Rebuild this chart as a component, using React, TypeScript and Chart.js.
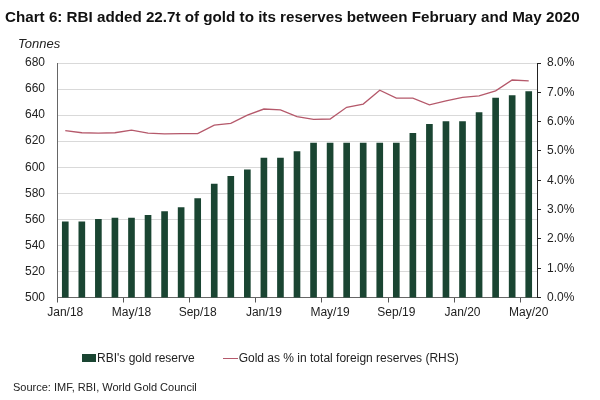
import React, { useEffect, useRef } from "react";
import { Chart, registerables } from "chart.js";

Chart.register(...registerables);

const months = [
  "Jan/18", "Feb/18", "Mar/18", "Apr/18", "May/18", "Jun/18", "Jul/18", "Aug/18", "Sep/18", "Oct/18", "Nov/18", "Dec/18",
  "Jan/19", "Feb/19", "Mar/19", "Apr/19", "May/19", "Jun/19", "Jul/19", "Aug/19", "Sep/19", "Oct/19", "Nov/19", "Dec/19",
  "Jan/20", "Feb/20", "Mar/20", "Apr/20", "May/20",
];

const goldTonnes = [
  558, 558, 560, 561, 561, 563, 566, 569, 576, 587, 593, 598,
  607, 607, 612, 618.5, 618.5, 618.5, 618.5, 618.5, 618.5, 626, 633, 635,
  635, 642, 653, 655, 658,
];

const goldPct = [
  5.69, 5.62, 5.61, 5.62, 5.71, 5.61, 5.58, 5.59, 5.59, 5.88, 5.94, 6.22,
  6.43, 6.4, 6.17, 6.08, 6.09, 6.49, 6.6, 7.07, 6.8, 6.8, 6.57, 6.71,
  6.83, 6.88, 7.05, 7.42, 7.39,
];

const title = "Chart 6: RBI added 22.7t of gold to its reserves between February and May 2020";
const leftAxisTitle = "Tonnes";
const barLabel = "RBI's gold reserve";
const lineLabel = "Gold as % in total foreign reserves (RHS)";
const source = "Source: IMF, RBI, World Gold Council";

const BAR_COLOR = "#1a4532";
const LINE_COLOR = "#b5596b";
const FONT = "'Liberation Sans', Arial, sans-serif";

export default function App() {
  const ref = useRef<HTMLCanvasElement | null>(null);

  useEffect(() => {
    if (!ref.current) return;
    const chart = new Chart(ref.current, {
      type: "bar",
      data: {
        labels: months,
        datasets: [
          {
            type: "line",
            label: lineLabel,
            data: goldPct,
            yAxisID: "y1",
            borderColor: LINE_COLOR,
            backgroundColor: LINE_COLOR,
            borderWidth: 1.3,
            pointRadius: 0,
            tension: 0,
            order: 0,
          } as any,
          {
            type: "bar",
            label: barLabel,
            data: goldTonnes,
            yAxisID: "y",
            backgroundColor: BAR_COLOR,
            barThickness: 6,
            order: 1,
          } as any,
        ],
      },
      options: {
        animation: false,
        responsive: false,
        maintainAspectRatio: false,
        layout: { padding: { top: 63, bottom: 72.5, left: 0, right: 0 } },
        plugins: {
          legend: { display: false },
          title: { display: false },
          tooltip: { enabled: false },
        },
        scales: {
          x: {
            offset: true,
            grid: {
              offset: true,
              drawOnChartArea: false,
              drawTicks: true,
              tickLength: 5,
              color: (ctx: any) => (ctx.index % 4 === 0 && ctx.index < months.length ? "#555" : "rgba(0,0,0,0)"),
            },
            border: { color: "#666", width: 1 },
            ticks: {
              autoSkip: false,
              maxRotation: 0,
              padding: 3,
              color: "#222",
              font: { family: FONT, size: 12 },
              callback: (_v: any, i: number) => (i % 4 === 0 ? months[i] : ""),
            },
            afterFit: (s: any) => {
              s.height = 30;
            },
          },
          y: {
            position: "left",
            min: 500,
            max: 680,
            ticks: {
              stepSize: 20,
              padding: 12,
              color: "#222",
              font: { family: FONT, size: 12 },
            },
            grid: { color: "#d9d9d9", drawTicks: false },
            border: { color: "#666", width: 1 },
            afterFit: (s: any) => {
              s.width = 57;
            },
          },
          y1: {
            position: "right",
            min: 0,
            max: 8,
            ticks: {
              stepSize: 1,
              padding: 6,
              color: "#222",
              font: { family: FONT, size: 12 },
              callback: (v: any) => Number(v).toFixed(1) + "%",
            },
            grid: { drawOnChartArea: false, drawTicks: true, tickLength: 4, color: "#222" },
            border: { color: "#222", width: 1 },
            afterFit: (s: any) => {
              s.width = 63;
            },
          },
        },
      },
    });
    return () => chart.destroy();
  }, []);

  return (
    <div style={{ position: "fixed", left: 0, top: 0, width: 600, height: 400, background: "#fff", fontFamily: FONT, color: "#111" }}>
      <canvas ref={ref} width={600} height={400} style={{ position: "absolute", left: 0, top: 0, width: 600, height: 400 }} />
      <div style={{ position: "absolute", left: 5, top: 8, fontSize: 15.2, fontWeight: "bold", whiteSpace: "nowrap", lineHeight: "18px" }}>{title}</div>
      <div style={{ position: "absolute", left: 18, top: 36, fontSize: 13, fontStyle: "italic", lineHeight: "16px", color: "#222" }}>{leftAxisTitle}</div>
      <div style={{ position: "absolute", left: 82, top: 350, fontSize: 12, lineHeight: "16px", color: "#222", display: "flex", alignItems: "center", whiteSpace: "nowrap" }}>
        <span style={{ display: "inline-block", width: 14, height: 8, background: BAR_COLOR, marginRight: 1 }} />
        <span>{barLabel}</span>
        <span style={{ display: "inline-block", width: 15, height: 0, borderTop: `1.5px solid ${LINE_COLOR}`, marginLeft: 28, marginRight: 1 }} />
        <span>{lineLabel}</span>
      </div>
      <div style={{ position: "absolute", left: 13, top: 380, fontSize: 11, lineHeight: "14px", color: "#222", whiteSpace: "nowrap" }}>{source}</div>
    </div>
  );
}
